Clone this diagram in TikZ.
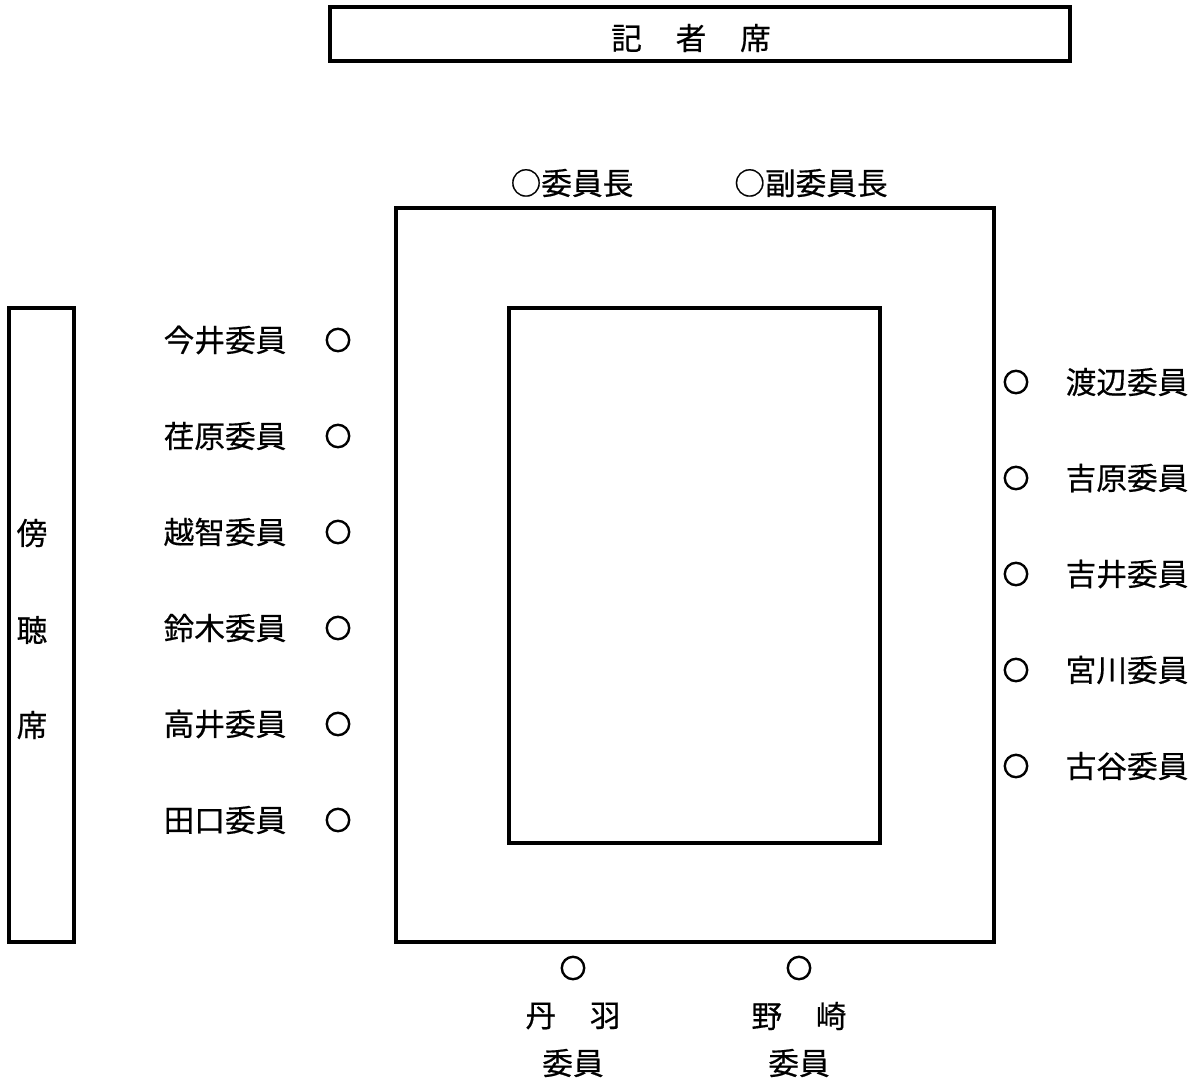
\documentclass[tikz,border=0pt]{standalone}
\usepackage{fontspec}
\setmainfont[FakeBold=0.5]{Noto Sans CJK JP}
\begin{document}
\begin{tikzpicture}[x=0.75pt,y=-0.75pt,
  box/.style={draw,line width=2.3pt},
  seat/.style={circle,draw,line width=1.8pt,minimum size=16.8pt,inner sep=0pt},
  lbl/.style={font=\fontsize{23}{28}\selectfont,inner sep=0pt}]
\useasboundingbox (0,0) rectangle (1198,1082);
% press seats
\draw[box] (330,7) rectangle (1070,61);
\node[lbl] (kisha) at (691,38) {記\hspace{1.1em}者\hspace{1.1em}席};
% tables
\draw[box] (396,208) rectangle (994,942);
\draw[box] (509,308) rectangle (880,843);
% gallery
\draw[box] (9,308) rectangle (74,942);
\node[lbl] (bo) at (32,533) {傍};
\node[lbl] (cho) at (32,630) {聴};
\node[lbl] (seki) at (32,725) {席};
% chair
\node[lbl] (chair) at (572,183) {○委員長};
\node[lbl] (vice) at (811,183) {○副委員長};
% left members
\foreach \n/\t/\y in {l1/今井委員/340, l2/荏原委員/436, l3/越智委員/532, l4/鈴木委員/628, l5/高井委員/724, l6/田口委員/820}{
  \node[lbl] (\n) at (225,\y) {\t};
  \node[seat] (\n s) at (338,\y) {};
}
% right members
\foreach \n/\t/\y in {r1/渡辺委員/382, r2/吉原委員/478, r3/吉井委員/574, r4/宮川委員/670, r5/古谷委員/766}{
  \node[seat] (\n s) at (1016,\y) {};
  \node[lbl] (\n) at (1127,\y) {\t};
}
% bottom members
\node[seat] (b1s) at (573,968) {};
\node[lbl] (b1a) at (573,1016) {丹\hspace{1.1em}羽};
\node[lbl] (b1b) at (573,1063) {委員};
\node[seat] (b2s) at (799,968) {};
\node[lbl] (b2a) at (799,1016) {野\hspace{1.1em}崎};
\node[lbl] (b2b) at (799,1063) {委員};
\end{tikzpicture}
\end{document}
